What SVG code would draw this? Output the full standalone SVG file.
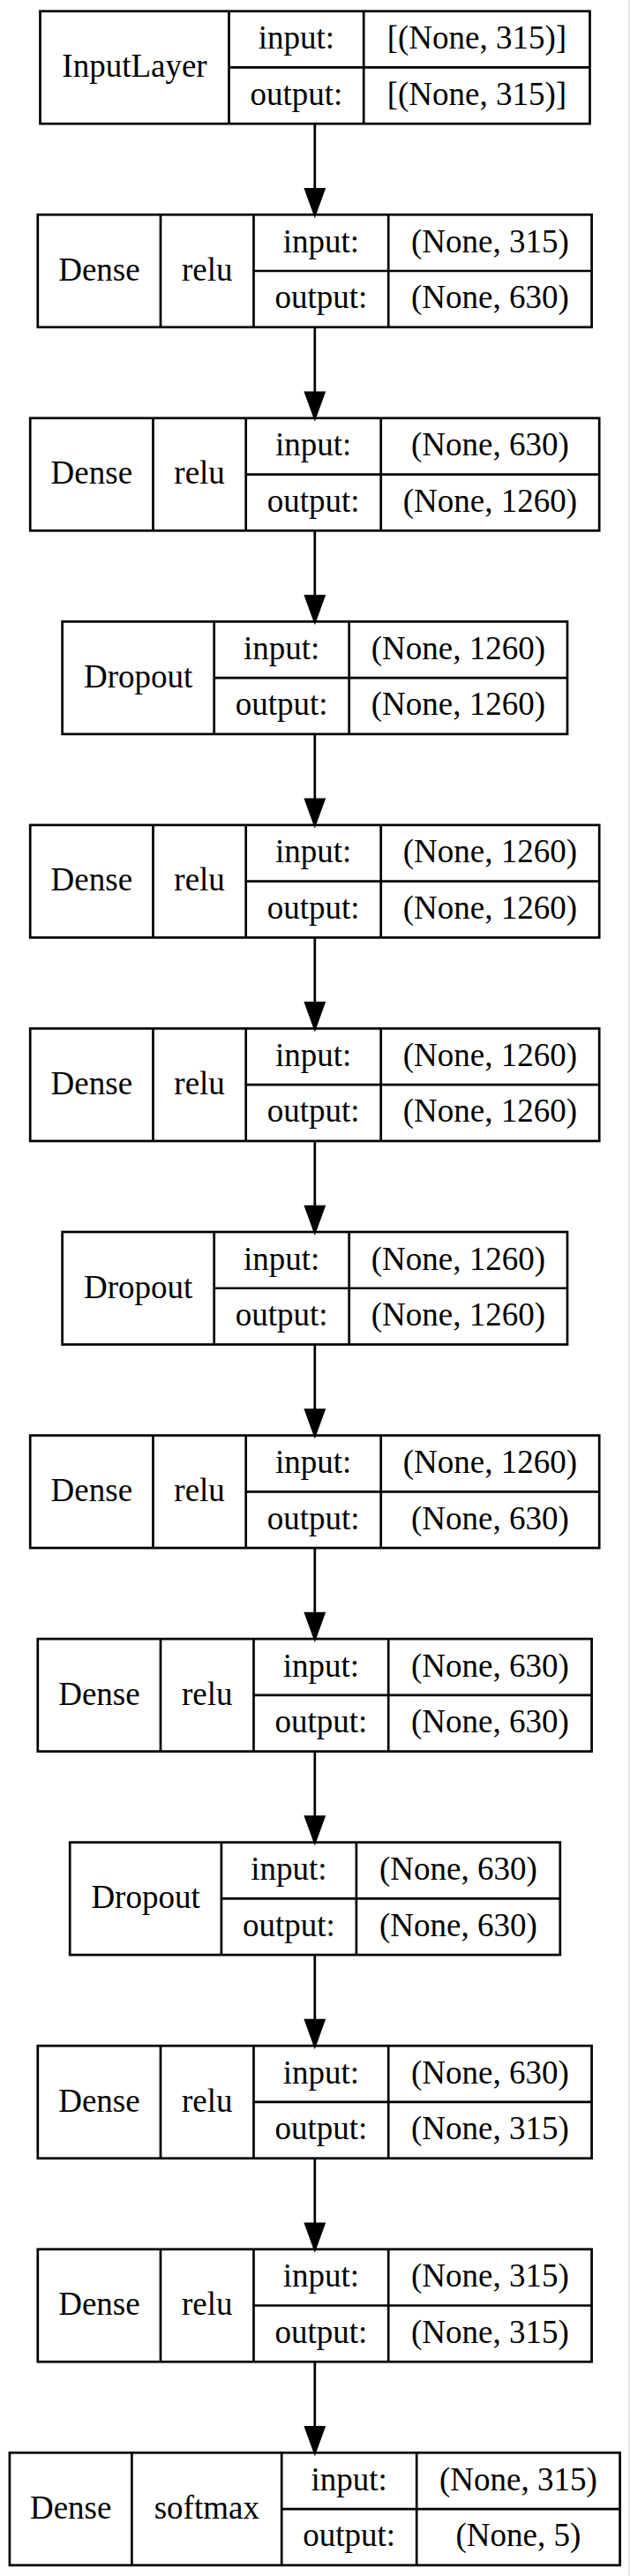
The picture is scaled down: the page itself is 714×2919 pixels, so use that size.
<svg xmlns="http://www.w3.org/2000/svg" width="714" height="2919" viewBox="0 0 714 2919">
<style>
.b{fill:none;stroke:#000;stroke-width:2.7}
.l{stroke:#000;stroke-width:2.7;fill:none}
text{font-family:"Liberation Serif","Times New Roman",serif;font-size:37px;fill:#000;text-anchor:middle}
.e{stroke:#000;stroke-width:2.7;fill:none}
.h{fill:#000;stroke:#000;stroke-width:2.7;stroke-linejoin:miter}
</style>
<rect width="714" height="2919" fill="#fff"/>
<line x1="713" y1="0" x2="713" y2="2919" stroke="#dcdcdc" stroke-width="1.5"/>

<g id="connectors">
<line class="e" x1="356.8" y1="140.2" x2="356.8" y2="214.25"/><polygon class="h" points="356.8,243.25 346.3,214.25 367.3,214.25"/>
<line class="e" x1="356.8" y1="370.75" x2="356.8" y2="444.8"/><polygon class="h" points="356.8,473.8 346.3,444.8 367.3,444.8"/>
<line class="e" x1="356.8" y1="601.3" x2="356.8" y2="675.35"/><polygon class="h" points="356.8,704.35 346.3,675.35 367.3,675.35"/>
<line class="e" x1="356.8" y1="831.85" x2="356.8" y2="905.9"/><polygon class="h" points="356.8,934.9 346.3,905.9 367.3,905.9"/>
<line class="e" x1="356.8" y1="1062.4" x2="356.8" y2="1136.45"/><polygon class="h" points="356.8,1165.45 346.3,1136.45 367.3,1136.45"/>
<line class="e" x1="356.8" y1="1292.95" x2="356.8" y2="1367"/><polygon class="h" points="356.8,1396 346.3,1367 367.3,1367"/>
<line class="e" x1="356.8" y1="1523.5" x2="356.8" y2="1597.55"/><polygon class="h" points="356.8,1626.55 346.3,1597.55 367.3,1597.55"/>
<line class="e" x1="356.8" y1="1754.05" x2="356.8" y2="1828.1"/><polygon class="h" points="356.8,1857.1 346.3,1828.1 367.3,1828.1"/>
<line class="e" x1="356.8" y1="1984.6" x2="356.8" y2="2058.65"/><polygon class="h" points="356.8,2087.65 346.3,2058.65 367.3,2058.65"/>
<line class="e" x1="356.8" y1="2215.15" x2="356.8" y2="2289.2"/><polygon class="h" points="356.8,2318.2 346.3,2289.2 367.3,2289.2"/>
<line class="e" x1="356.8" y1="2445.7" x2="356.8" y2="2519.75"/><polygon class="h" points="356.8,2548.75 346.3,2519.75 367.3,2519.75"/>
<line class="e" x1="356.8" y1="2676.25" x2="356.8" y2="2750.3"/><polygon class="h" points="356.8,2779.3 346.3,2750.3 367.3,2750.3"/>
</g>

<g id="n0" transform="translate(0,12.7)">
<rect class="b" x="45.5" y="0" width="623" height="127.5"/>
<path class="l" d="M259.5,0V127.5M412.2,0V127.5M259.5,63.75H668.5"/>
<text x="152.5" y="74.5">InputLayer</text>
<text x="335.85" y="42.5">input:</text><text x="540.35" y="42.5">[(None, 315)]</text>
<text x="335.85" y="106">output:</text><text x="540.35" y="106">[(None, 315)]</text>
</g>

<g id="n1" transform="translate(0,243.25)">
<rect class="b" x="42.8" y="0" width="627.8" height="127.5"/>
<path class="l" d="M182,0V127.5M287.5,0V127.5M440.2,0V127.5M287.5,63.75H670.6"/>
<text x="112.4" y="74.5">Dense</text><text x="234.75" y="74.5">relu</text>
<text x="363.85" y="42.5">input:</text><text x="555.4" y="42.5">(None, 315)</text>
<text x="363.85" y="106">output:</text><text x="555.4" y="106">(None, 630)</text>
</g>

<g id="n2" transform="translate(0,473.8)">
<rect class="b" x="34.2" y="0" width="645" height="127.5"/>
<path class="l" d="M173.5,0V127.5M278.7,0V127.5M431.7,0V127.5M278.7,63.75H679.2"/>
<text x="103.85" y="74.5">Dense</text><text x="226.1" y="74.5">relu</text>
<text x="355.2" y="42.5">input:</text><text x="555.45" y="42.5">(None, 630)</text>
<text x="355.2" y="106">output:</text><text x="555.45" y="106">(None, 1260)</text>
</g>

<g id="n3" transform="translate(0,704.35)">
<rect class="b" x="70.6" y="0" width="572.4" height="127.5"/>
<path class="l" d="M242.7,0V127.5M395.7,0V127.5M242.7,63.75H643"/>
<text x="156.65" y="74.5">Dropout</text>
<text x="319.2" y="42.5">input:</text><text x="519.35" y="42.5">(None, 1260)</text>
<text x="319.2" y="106">output:</text><text x="519.35" y="106">(None, 1260)</text>
</g>

<g id="n4" transform="translate(0,934.9)">
<rect class="b" x="34.2" y="0" width="645" height="127.5"/>
<path class="l" d="M173.5,0V127.5M278.7,0V127.5M431.7,0V127.5M278.7,63.75H679.2"/>
<text x="103.85" y="74.5">Dense</text><text x="226.1" y="74.5">relu</text>
<text x="355.2" y="42.5">input:</text><text x="555.45" y="42.5">(None, 1260)</text>
<text x="355.2" y="106">output:</text><text x="555.45" y="106">(None, 1260)</text>
</g>

<g id="n5" transform="translate(0,1165.45)">
<rect class="b" x="34.2" y="0" width="645" height="127.5"/>
<path class="l" d="M173.5,0V127.5M278.7,0V127.5M431.7,0V127.5M278.7,63.75H679.2"/>
<text x="103.85" y="74.5">Dense</text><text x="226.1" y="74.5">relu</text>
<text x="355.2" y="42.5">input:</text><text x="555.45" y="42.5">(None, 1260)</text>
<text x="355.2" y="106">output:</text><text x="555.45" y="106">(None, 1260)</text>
</g>

<g id="n6" transform="translate(0,1396)">
<rect class="b" x="70.6" y="0" width="572.4" height="127.5"/>
<path class="l" d="M242.7,0V127.5M395.7,0V127.5M242.7,63.75H643"/>
<text x="156.65" y="74.5">Dropout</text>
<text x="319.2" y="42.5">input:</text><text x="519.35" y="42.5">(None, 1260)</text>
<text x="319.2" y="106">output:</text><text x="519.35" y="106">(None, 1260)</text>
</g>

<g id="n7" transform="translate(0,1626.55)">
<rect class="b" x="34.2" y="0" width="645" height="127.5"/>
<path class="l" d="M173.5,0V127.5M278.7,0V127.5M431.7,0V127.5M278.7,63.75H679.2"/>
<text x="103.85" y="74.5">Dense</text><text x="226.1" y="74.5">relu</text>
<text x="355.2" y="42.5">input:</text><text x="555.45" y="42.5">(None, 1260)</text>
<text x="355.2" y="106">output:</text><text x="555.45" y="106">(None, 630)</text>
</g>

<g id="n8" transform="translate(0,1857.1)">
<rect class="b" x="42.8" y="0" width="627.8" height="127.5"/>
<path class="l" d="M182,0V127.5M287.5,0V127.5M440.2,0V127.5M287.5,63.75H670.6"/>
<text x="112.4" y="74.5">Dense</text><text x="234.75" y="74.5">relu</text>
<text x="363.85" y="42.5">input:</text><text x="555.4" y="42.5">(None, 630)</text>
<text x="363.85" y="106">output:</text><text x="555.4" y="106">(None, 630)</text>
</g>

<g id="n9" transform="translate(0,2087.65)">
<rect class="b" x="79.2" y="0" width="555.6" height="127.5"/>
<path class="l" d="M250.9,0V127.5M403.9,0V127.5M250.9,63.75H634.8"/>
<text x="165.05" y="74.5">Dropout</text>
<text x="327.4" y="42.5">input:</text><text x="519.35" y="42.5">(None, 630)</text>
<text x="327.4" y="106">output:</text><text x="519.35" y="106">(None, 630)</text>
</g>

<g id="n10" transform="translate(0,2318.2)">
<rect class="b" x="42.8" y="0" width="627.8" height="127.5"/>
<path class="l" d="M182,0V127.5M287.5,0V127.5M440.2,0V127.5M287.5,63.75H670.6"/>
<text x="112.4" y="74.5">Dense</text><text x="234.75" y="74.5">relu</text>
<text x="363.85" y="42.5">input:</text><text x="555.4" y="42.5">(None, 630)</text>
<text x="363.85" y="106">output:</text><text x="555.4" y="106">(None, 315)</text>
</g>

<g id="n11" transform="translate(0,2548.75)">
<rect class="b" x="42.8" y="0" width="627.8" height="127.5"/>
<path class="l" d="M182,0V127.5M287.5,0V127.5M440.2,0V127.5M287.5,63.75H670.6"/>
<text x="112.4" y="74.5">Dense</text><text x="234.75" y="74.5">relu</text>
<text x="363.85" y="42.5">input:</text><text x="555.4" y="42.5">(None, 315)</text>
<text x="363.85" y="106">output:</text><text x="555.4" y="106">(None, 315)</text>
</g>

<g id="n12" transform="translate(0,2779.3)">
<rect class="b" x="10.9" y="0" width="691.7" height="127.5"/>
<path class="l" d="M149.4,0V127.5M319.2,0V127.5M472.2,0V127.5M319.2,63.75H702.6"/>
<text x="80.15" y="74.5">Dense</text><text x="234.3" y="74.5">softmax</text>
<text x="395.7" y="42.5">input:</text><text x="587.4" y="42.5">(None, 315)</text>
<text x="395.7" y="106">output:</text><text x="587.4" y="106">(None, 5)</text>
</g>
</svg>
